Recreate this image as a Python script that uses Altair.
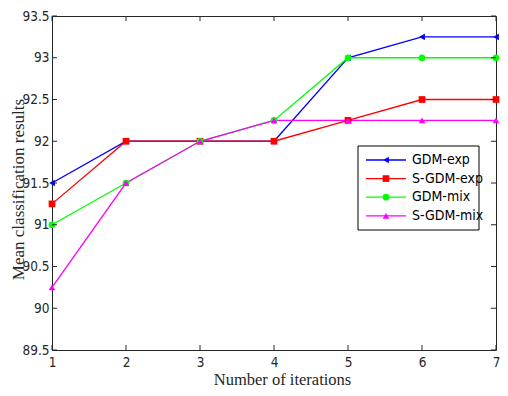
import altair as alt
import pandas as pd

# ---- data ----
iterations = [1, 2, 3, 4, 5, 6, 7]
series_names = ["GDM-exp", "S-GDM-exp", "GDM-mix", "S-GDM-mix"]
gdm_exp = [91.5, 92.0, 92.0, 92.0, 93.0, 93.25, 93.25]
s_gdm_exp = [91.25, 92.0, 92.0, 92.0, 92.25, 92.5, 92.5]
gdm_mix = [91.0, 91.5, 92.0, 92.25, 93.0, 93.0, 93.0]
s_gdm_mix = [90.25, 91.5, 92.0, 92.25, 92.25, 92.25, 92.25]
x_ticks = [1, 2, 3, 4, 5, 6, 7]
y_ticks = [89.5, 90, 90.5, 91, 91.5, 92, 92.5, 93, 93.5]
colors = ["#0000FF", "#FF0000", "#00FF00", "#FF00FF"]
shapes = ["triangle-left", "square", "circle", "triangle-up"]

rows = []
for name, vals in zip(series_names, [gdm_exp, s_gdm_exp, gdm_mix, s_gdm_mix]):
    for it, v in zip(iterations, vals):
        rows.append({"series": name, "iter": it, "value": v})
df = pd.DataFrame(rows)

W, H = 444, 334
FONT_TICK = "Liberation Sans Narrow, Arial Narrow, DejaVu Sans Condensed, sans-serif"
FONT_TITLE = "Liberation Serif, Times New Roman, serif"
AX = "#262626"

xscale = alt.Scale(domain=[1, 7], nice=False, zero=False)
yscale = alt.Scale(domain=[89.5, 93.5], nice=False, zero=False)
color_scale = alt.Scale(domain=series_names, range=colors)
shape_scale = alt.Scale(domain=series_names, range=shapes)

x_axis = alt.Axis(values=x_ticks, format="d", title="Number of iterations", grid=False,
                  ticks=False, domain=False, labelFont=FONT_TICK, labelFontSize=13.5,
                  labelPadding=5, labelColor=AX, labelFlush=False, labelOverlap=False,
                  titleFont=FONT_TITLE, titleFontSize=16.5, titleFontWeight="normal",
                  titleColor=AX, titleX=230, titleY=34, titleBaseline="alphabetic")
y_axis = alt.Axis(values=y_ticks, format="~g", title="Mean classification results", grid=False,
                  ticks=False, domain=False, labelFont=FONT_TICK, labelFontSize=13.5,
                  labelPadding=3, labelColor=AX, labelFlush=False, labelOverlap=False,
                  titleFont=FONT_TITLE, titleFontSize=17, titleFontWeight="normal",
                  titleColor=AX, titleAngle=270, titleX=-28.5, titleY=173,
                  titleBaseline="alphabetic", titleAlign="center")

X = alt.X("iter:Q", scale=xscale, axis=x_axis)
Y = alt.Y("value:Q", scale=yscale, axis=y_axis)

lines = alt.Chart(df).mark_line(strokeWidth=1.3).encode(
    x=X, y=Y,
    color=alt.Color("series:N", scale=color_scale, legend=None),
    order=alt.Order("iter:Q"),
)
points = alt.Chart(df).mark_point(filled=True, size=45, opacity=1).encode(
    x=X, y=Y,
    color=alt.Color("series:N", scale=color_scale, legend=None),
    shape=alt.Shape("series:N", scale=shape_scale, legend=None),
)

xt = pd.DataFrame({"iter": x_ticks})
yt = pd.DataFrame({"value": y_ticks})
TL = 5
tick_b = alt.Chart(xt).mark_rule(color=AX, strokeWidth=1).encode(
    x=X, y=alt.value(H), y2=alt.value(H - TL))
tick_t = alt.Chart(xt).mark_rule(color=AX, strokeWidth=1).encode(
    x=X, y=alt.value(0), y2=alt.value(TL))
tick_l = alt.Chart(yt).mark_rule(color=AX, strokeWidth=1).encode(
    y=Y, x=alt.value(0), x2=alt.value(TL))
tick_r = alt.Chart(yt).mark_rule(color=AX, strokeWidth=1).encode(
    y=Y, x=alt.value(W), x2=alt.value(W - TL))

# ---- legend box drawn by hand ----
BX0, BX1, BY0, BY1 = 306, 427, 130, 214
box = alt.Chart(pd.DataFrame({"a": [0]})).mark_rect(
    fill="white", stroke="#000000", strokeWidth=1).encode(
    x=alt.value(BX0), x2=alt.value(BX1), y=alt.value(BY0), y2=alt.value(BY1))
leg_layers = [box]
for i, name in enumerate(series_names):
    yc = 144 + 18.6 * i
    d = pd.DataFrame({"series": [name]})
    leg_layers.append(alt.Chart(d).mark_rule(strokeWidth=1.3, color=colors[i]).encode(
        x=alt.value(BX0 + 8), x2=alt.value(BX0 + 48), y=alt.value(yc)))
    leg_layers.append(alt.Chart(d).mark_point(filled=True, size=45, opacity=1,
                                              color=colors[i], shape=shapes[i]).encode(
        x=alt.value(BX0 + 28), y=alt.value(yc)))
    leg_layers.append(alt.Chart(d).mark_text(align="left", baseline="middle",
                                             font=FONT_TICK, fontSize=14, color="#000000").encode(
        x=alt.value(BX0 + 54), y=alt.value(yc), text="series:N"))

chart = alt.layer(lines, points, tick_b, tick_t, tick_l, tick_r, *leg_layers).properties(
    width=W, height=H,
    padding={"left": 44, "top": 8, "right": 4, "bottom": 38},
    autosize="none",
    background="white",
).configure_view(stroke=AX, strokeWidth=1)

chart.save("out.html", embed_options={"renderer": "svg", "actions": False})
